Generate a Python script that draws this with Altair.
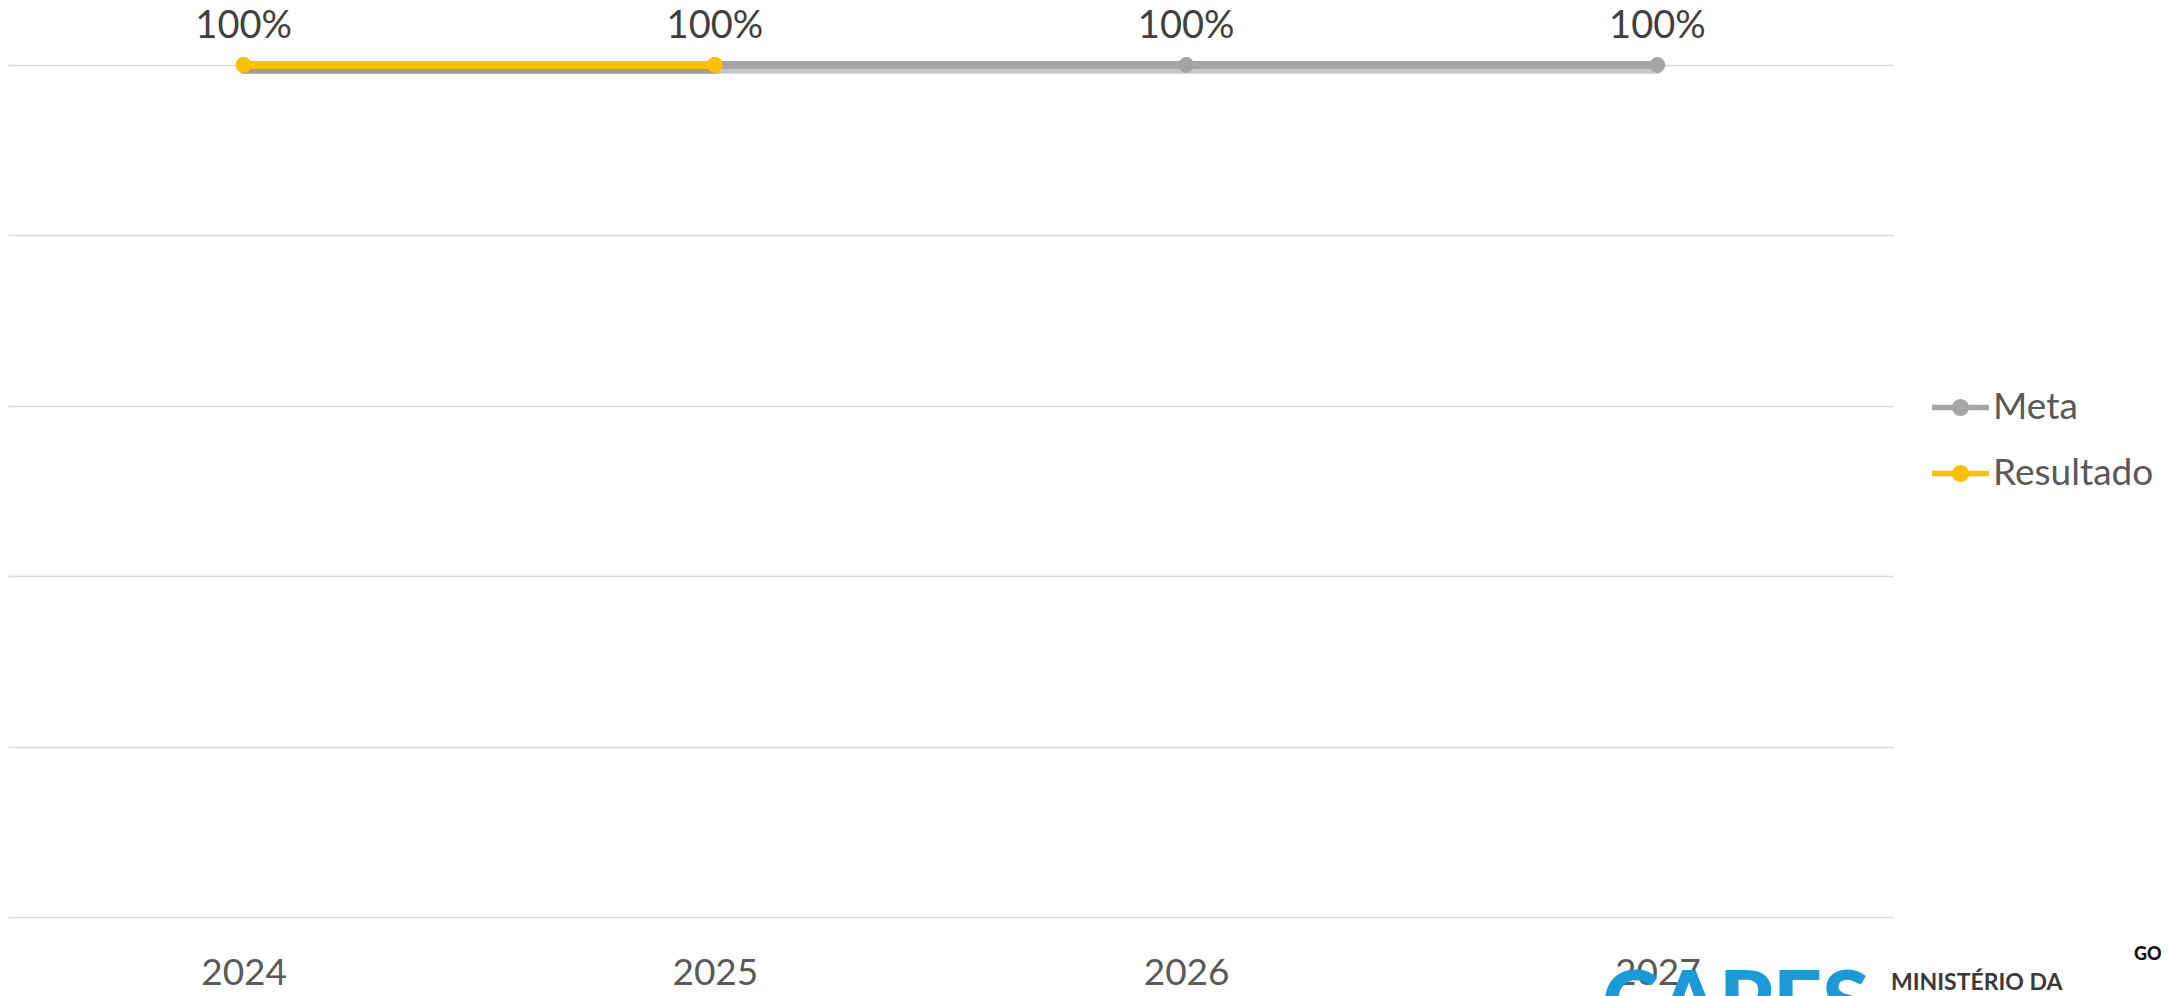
import altair as alt
import pandas as pd

anos = ["2024", "2025", "2026", "2027"]
meta = [100, 100, 100, 100]
resultado_anos = ["2024", "2025"]
resultado = [100, 100]
series = ["Meta", "Resultado"]
cores = ["#a5a5a5", "#ffc000"]
y_ticks = [0, 20, 40, 60, 80, 100]

# textos dos logotipos no rodapé
logo_textos = ["CAPES", "MINISTÉRIO DA", "GO"]

rows = [{"ano": a, "valor": v, "serie": "Meta"} for a, v in zip(anos, meta)]
rows += [{"ano": a, "valor": v, "serie": "Resultado"} for a, v in zip(resultado_anos, resultado)]
df = pd.DataFrame(rows)

FONT = "Lato"
cor_scale = alt.Scale(domain=series, range=cores)
y_scale = alt.Scale(domain=[0, 100], nice=False, zero=True)
x_enc = alt.X(
    "ano:O",
    sort=anos,
    scale=alt.Scale(padding=0.5),
    axis=alt.Axis(
        title=None, domain=False, ticks=False, labelAngle=0,
        labelFontSize=37, labelColor="#595959", labelFont=FONT,
        labelPadding=38, labelBaseline="top",
    ),
)
y_axis = alt.Axis(
    title=None, labels=False, ticks=False, domain=False, values=y_ticks,
    grid=True, gridColor="#d9d9d9", gridWidth=1.5,
)
y_enc = alt.Y("valor:Q", scale=y_scale, axis=y_axis)

legend_path = ("M-1,-0.1L1,-0.1L1,0.1L-1,0.1Z "
               "M0.3,0A0.3,0.3,0,1,1,-0.3,0A0.3,0.3,0,1,1,0.3,0Z")
legenda = alt.Legend(
    title=None, orient="none", legendX=1924, legendY=314,
    symbolType=legend_path, symbolSize=3249, symbolStrokeWidth=0,
    symbolOpacity=1, labelFontSize=37, labelColor="#595959",
    labelFont=FONT, labelOffset=4, rowPadding=19, padding=0, labelLimit=400,
)
cor_enc = alt.Color("serie:N", scale=cor_scale, legend=legenda)

base = alt.Chart(df)

sombra = base.transform_calculate(
    valor_sombra=alt.datum.valor - 0.5
).mark_line(strokeWidth=9, color="#000000", opacity=0.22, strokeCap="round").encode(
    x=x_enc,
    y=alt.Y("valor_sombra:Q", scale=y_scale, axis=y_axis),
    detail="serie:N",
    order=alt.Order("ano:O"),
)

linhas = base.mark_line(strokeWidth=8).encode(
    x=x_enc, y=y_enc, color=cor_enc, order=alt.Order("ano:O"),
)

pontos = base.mark_circle(size=250, opacity=1).encode(
    x=x_enc, y=y_enc, color=cor_enc,
)

rotulos = base.transform_filter(
    alt.datum.serie == "Meta"
).transform_calculate(
    rotulo=alt.expr.format(alt.datum.valor, ".0f") + "%"
).mark_text(
    baseline="alphabetic", dy=-27, fontSize=38, color="#404040", font=FONT
).encode(x=x_enc, y=y_enc, text="rotulo:N")

# logotipos (aproximação em texto)
capes = alt.Chart(pd.DataFrame({"t": [logo_textos[0]]})).mark_text(
    align="left", baseline="alphabetic", fontSize=86, fontWeight=900,
    color="#1a9ad6", font=FONT,
).encode(text="t:N", x=alt.value(1594), y=alt.value(967))
ministerio = alt.Chart(pd.DataFrame({"t": [logo_textos[1]]})).mark_text(
    align="left", baseline="alphabetic", fontSize=23, fontWeight="bold",
    color="#3a3a3a", font=FONT,
).encode(text="t:N", x=alt.value(1883), y=alt.value(925))
gov = alt.Chart(pd.DataFrame({"t": [logo_textos[2]]})).mark_text(
    align="left", baseline="alphabetic", fontSize=18, fontWeight=900,
    color="#111111", font=FONT,
).encode(text="t:N", x=alt.value(2126), y=alt.value(895))

chart = alt.layer(sombra, linhas, pontos, rotulos, capes, ministerio, gov).properties(
    width=1885, height=852,
    autosize=alt.AutoSizeParams(type="none"),
    padding={"left": 0, "top": 57, "right": 268, "bottom": 100},
).configure(
    font=FONT, background="white", view=alt.ViewConfig(stroke="transparent")
)

chart.save("out.html", embed_options={"renderer": "svg", "actions": False})
